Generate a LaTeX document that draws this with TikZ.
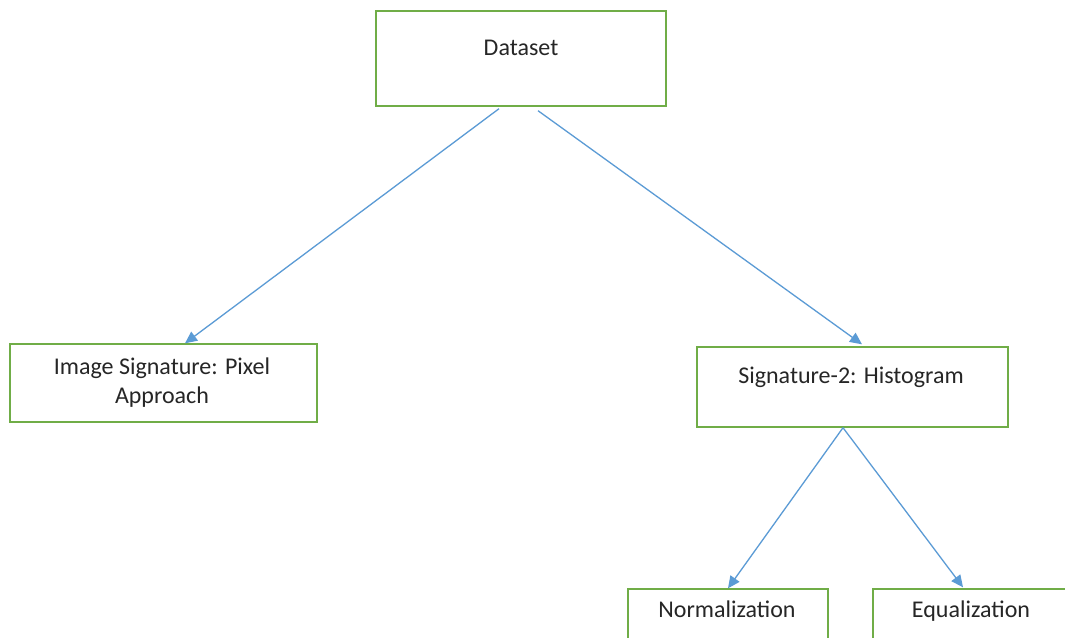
\documentclass[tikz,border=0pt]{standalone}
\usepackage{fontspec}
\setmainfont{Carlito}
\usetikzlibrary{arrows.meta,calc}
\definecolor{boxgreen}{RGB}{112,173,71}
\definecolor{arrowblue}{RGB}{91,155,213}
\definecolor{txtgray}{RGB}{38,38,38}
\tikzset{
  box/.style={draw=boxgreen, line width=1.4pt, rectangle, inner sep=0pt},
  txt/.style={text=txtgray, font=\fontsize{24}{29}\selectfont, inner sep=0pt, align=center},
  conn/.style={draw=arrowblue, line width=1.3pt, -{Triangle[length=12pt,width=11pt]}}
}
\begin{document}
\begin{tikzpicture}[x=1pt,y=-1pt]
\clip (0,0) rectangle (1065,637);
\fill[white] (0,0) rectangle (1065,637);
% boxes
\node[box, minimum width=290pt, minimum height=95pt] (ds) at (521,58.5) {};
\node[box, minimum width=307pt, minimum height=78pt] (img) at (163.5,383) {};
\node[box, minimum width=311pt, minimum height=80pt] (sig) at (852.5,387) {};
\node[box, minimum width=200pt, minimum height=60pt] (norm) at (728,619) {};
\node[box, minimum width=196pt, minimum height=60pt] (eq) at (971,619) {};
% texts
\node[txt, anchor=base] (dst) at (521,55) {Dataset};
\node[txt] (imgt) at (162,383) {Image Signature: Pixel\\Approach};
\node[txt, anchor=base] (sigt) at (851,383) {Signature-2: Histogram};
\node[txt, anchor=base] (normt) at (727,617) {Normalization};
\node[txt, anchor=base] (eqt) at (971,617) {Equalization};
% connectors
\coordinate (dsl) at ($(ds.south)+(-22,2)$);
\coordinate (dsr) at ($(ds.south)+(17,4)$);
\coordinate (sigb) at ($(sig.south)+(-9.5,0)$);
\draw[conn] (dsl) -- ($(img.north)+(21.5,0)$);
\draw[conn] (dsr) -- ($(sig.north)+(9.5,-2)$);
\draw[conn] (sigb) -- (norm.north);
\draw[conn] (sigb) -- ($(eq.north)+(-8,-1)$);
\end{tikzpicture}
\end{document}
